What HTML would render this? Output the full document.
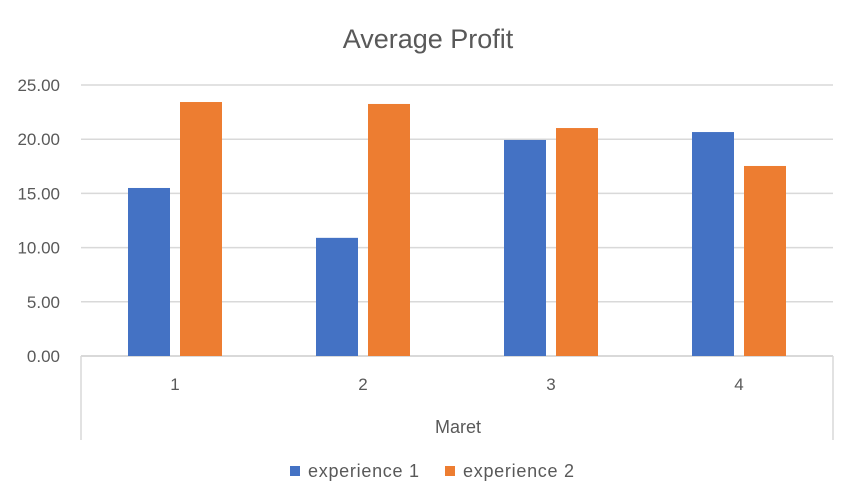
<!DOCTYPE html>
<html><head><meta charset="utf-8"><style>
body{margin:0;background:#fff;}
svg{display:block;font-family:"Liberation Sans",sans-serif;}
</style></head><body>
<svg id="chart" width="858" height="502" viewBox="0 0 858 502">
<rect width="858" height="502" fill="#fff"/>
<text x="428" y="48" text-anchor="middle" font-size="27" fill="#595959">Average Profit</text>
<g id="grid"></g><g id="bars"></g><g id="xaxis"></g>
<text x="458" y="433" text-anchor="middle" font-size="18" fill="#595959">Maret</text>
<g>
<rect x="290" y="466" width="10" height="10" fill="#4472C4"/>
<text x="308" y="477" font-size="18" fill="#595959" textLength="111">experience 1</text>
<rect x="445" y="466" width="10" height="10" fill="#ED7D31"/>
<text x="463" y="477" font-size="18" fill="#595959" textLength="111">experience 2</text>
</g>
</svg>
<script>
const categories=["1","2","3","4"];
const exp1=[15.5,10.9,19.93,20.66];
const exp2=[23.43,23.25,21.03,17.53];
const yTicks=[0,5,10,15,20,25];
const yTickLabels=["0.00","5.00","10.00","15.00","20.00","25.00"];
const NS="http://www.w3.org/2000/svg";
const L=81,R=833,T=85,B=356,yMax=25;
const y=v=>B-(v/yMax)*(B-T);
const band=(R-L)/categories.length;
const x=i=>L+band*i;
function mk(tag,attrs,parent){const e=document.createElementNS(NS,tag);for(const k in attrs)e.setAttribute(k,attrs[k]);parent.appendChild(e);return e;}
const grid=document.getElementById('grid'),bars=document.getElementById('bars'),xa=document.getElementById('xaxis');
yTicks.forEach((t,i)=>{
 const ln=mk('line',{x1:L,x2:R,y1:y(t),y2:y(t),stroke:'#d9d9d9','stroke-width':t===0?2:1.5},grid);
 
 
 const tx=mk('text',{x:60,y:y(t)+6,'text-anchor':'end','font-size':'17',fill:'#595959'},grid);
 tx.textContent=yTickLabels[i];
 
 
});
const bw=42,gap=10;
categories.forEach((c,i)=>{
 const cx=x(i)+band/2;
 const b1=mk('rect',{x:cx-gap/2-bw,y:y(exp1[i]),width:bw,height:B-y(exp1[i]),fill:'#4472C4'},bars);
 
 
 const b2=mk('rect',{x:cx+gap/2,y:y(exp2[i]),width:bw,height:B-y(exp2[i]),fill:'#ED7D31'},bars);
 
 
 const t=mk('text',{x:cx,y:390,'text-anchor':'middle','font-size':'17',fill:'#595959'},xa);
 t.textContent=c;
 
 
});
[L,R].forEach(xx=>{
 const v=mk('line',{x1:xx,x2:xx,y1:B,y2:440,stroke:'#d9d9d9','stroke-width':1.5},xa);
 
 
});
</script>
</body></html>
